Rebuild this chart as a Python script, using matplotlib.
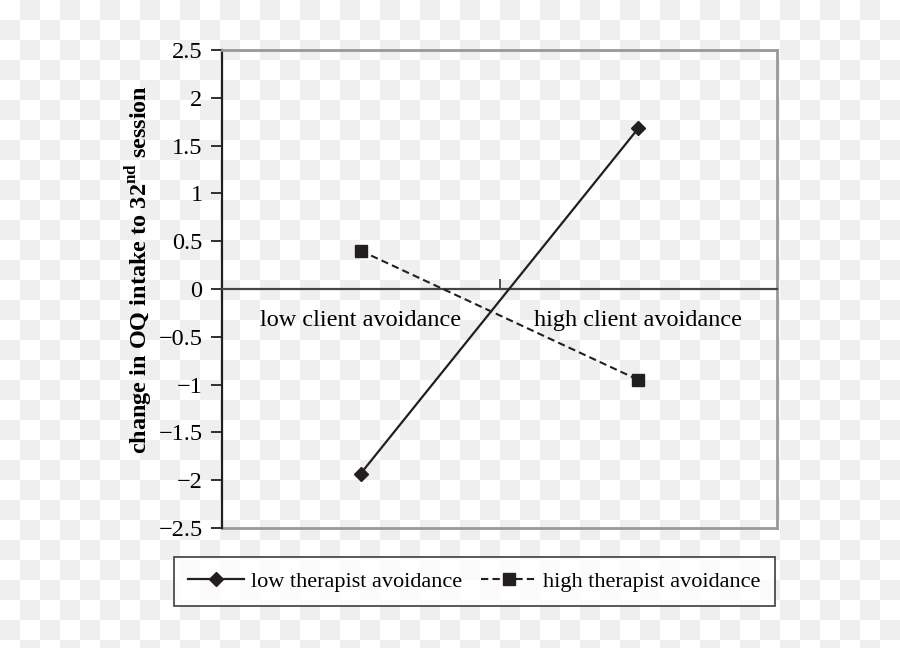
"""
Interaction plot: change in OQ by client / therapist avoidance.
Output: out.png (900x648)
"""

import numpy as np
import matplotlib
matplotlib.use("Agg")
import matplotlib.pyplot as plt
from matplotlib.lines import Line2D

plt.rcParams["font.family"] = ["Liberation Serif", "DejaVu Serif"]
plt.rcParams["mathtext.fontset"] = "custom"
plt.rcParams["mathtext.rm"] = "Liberation Serif"
plt.rcParams["mathtext.bf"] = "Liberation Serif:bold"

# 数据
categories = ["low client avoidance", "high client avoidance"]
low_therapist = [-1.93, 1.68]
high_therapist = [0.40, -0.95]
series_names = ["low therapist avoidance", "high therapist avoidance"]
yticks = [-2.5, -2, -1.5, -1, -0.5, 0, 0.5, 1, 1.5, 2, 2.5]
ytick_labels = ["\u22122.5", "\u22122", "\u22121.5", "\u22121", "\u22120.5", "0",
                "0.5", "1", "1.5", "2", "2.5"]

INK = "#231f20"
FRAME = "#999999"
FS = 17.5
LEG_FS = 16

fig = plt.figure(figsize=(9, 6.48), dpi=100)

# 透明背景的棋盘格
bg = fig.add_axes([0, 0, 1, 1], zorder=-10)
rows, cols = 33, 45
checker = (np.add.outer(np.arange(rows), np.arange(cols)) % 2).astype(float)
bg.imshow(checker, cmap=matplotlib.colors.ListedColormap(["#ffffff", "#efefef"]),
          extent=(0, cols * 20, rows * 20, 0), interpolation="nearest", aspect="auto")
bg.set_xlim(0, 900)
bg.set_ylim(648, 0)
bg.axis("off")

ax = fig.add_axes([222 / 900, 1 - 528 / 648, 555 / 900, 478 / 648])
ax.set_facecolor("none")

x = np.arange(len(categories))
ax.plot(x, low_therapist, color=INK, lw=1.6, marker="D", ms=7, zorder=3)
ax.plot(x, high_therapist, color=INK, lw=1.5, ls=(0, (3.5, 2)), marker="s", ms=8, zorder=3)

ax.set_xlim(-0.5, 1.5)
ax.set_ylim(-2.5, 2.5)

# 边框
for side in ["top", "right"]:
    ax.spines[side].set_color(FRAME)
    ax.spines[side].set_linewidth(2)
ax.spines["left"].set_color(INK)
ax.spines["left"].set_linewidth(1.6)
ax.spines["bottom"].set_position(("data", 0))
ax.spines["bottom"].set_color("#444444")
ax.spines["bottom"].set_linewidth(1.6)
ax.plot([0, 1], [0, 0], transform=ax.transAxes, color=FRAME, lw=2, clip_on=False)

ax.set_yticks(yticks)
ax.set_yticklabels(ytick_labels, fontsize=FS)
ax.tick_params(axis="y", direction="out", length=8, width=1.3, color=INK, pad=6)

ax.set_xticks([0.5])
ax.set_xticklabels([])
ax.tick_params(axis="x", which="major", direction="in", length=7, width=1.3, color="#444444")
ax.set_xticks(x, minor=True)
ax.set_xticklabels(categories, minor=True, fontsize=FS)
ax.tick_params(axis="x", which="minor", length=0, pad=15)

ax.set_ylabel(r"change in OQ intake to 32$^{\mathbf{nd}}$ session",
              fontsize=FS, fontweight="bold")
ax.yaxis.set_label_coords(-0.121, 0.54)

handles = [
    Line2D([], [], color=INK, lw=1.6, marker="D", ms=7),
    Line2D([], [], color=INK, lw=1.5, ls=(0, (3.5, 2)), marker="s", ms=8),
]
leg = fig.legend(handles, series_names, loc="center", ncol=2,
                 bbox_to_anchor=(474.5 / 900, 1 - 581.5 / 648),
                 fontsize=LEG_FS, frameon=True, fancybox=False, borderpad=0.65,
                 handlelength=2.5, handletextpad=0.32, columnspacing=0.85)
leg.get_frame().set_edgecolor(INK)
leg.get_frame().set_linewidth(1.3)
leg.get_frame().set_facecolor("white")

fig.savefig("out.png", dpi=100)
